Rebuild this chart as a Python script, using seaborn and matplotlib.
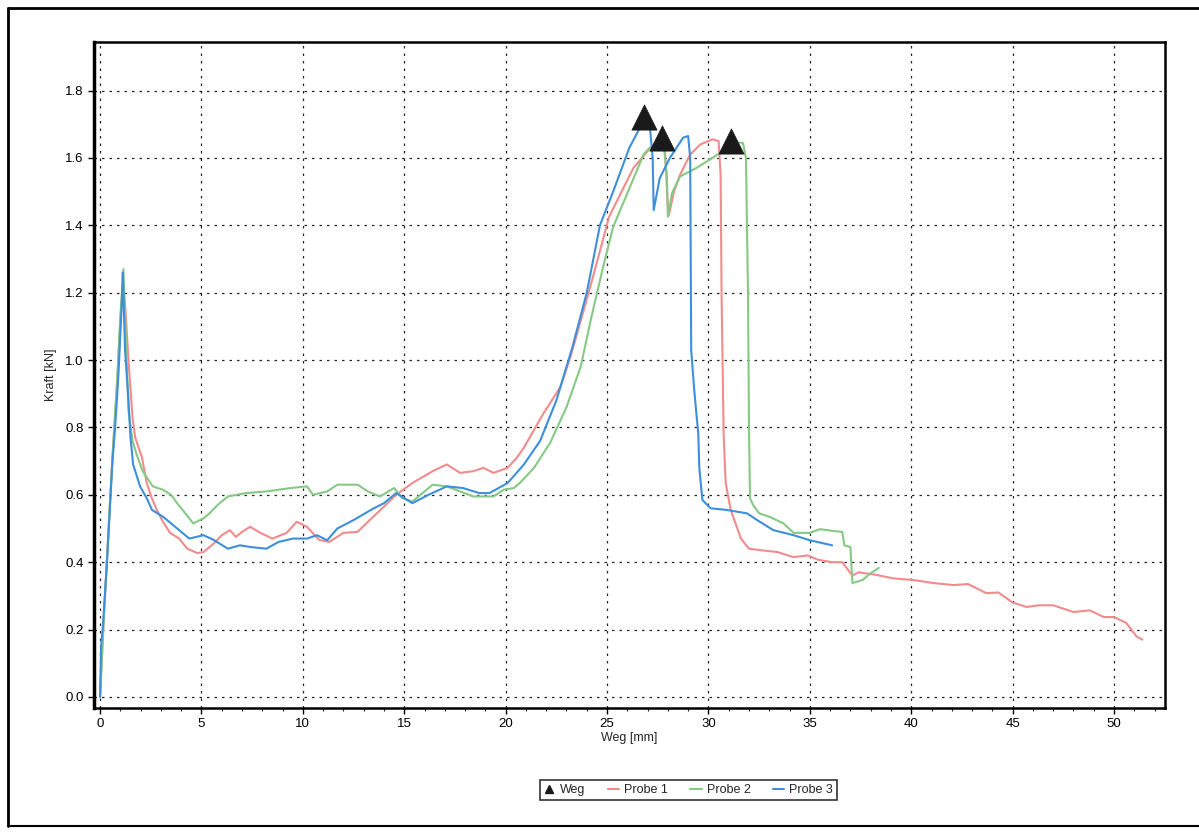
import numpy as np
import pandas as pd
import matplotlib
matplotlib.use("Agg")
import matplotlib.pyplot as plt
from matplotlib.lines import Line2D
from matplotlib.ticker import MultipleLocator
import seaborn as sns

# ---------------- data ----------------
p1_x = [0, 0.15, 0.35, 0.6, 0.84, 1.0, 1.13, 1.25, 1.4, 1.48, 1.6, 1.73, 1.9, 2.07, 2.3, 2.55, 2.8, 3.1,
        3.45, 3.9, 4.3, 4.8, 5.1, 5.6, 6.0, 6.4, 6.7, 7.0, 7.4, 7.9, 8.5, 9.2, 9.7, 10.2, 10.8, 11.3,
        12.0, 12.7, 13.3, 14.0, 14.6, 15.4, 16.4, 17.1, 17.75, 18.4, 18.9, 19.4, 20.1, 20.55, 20.9,
        21.85, 22.7, 23.2, 24.0, 24.5, 25.1, 25.8, 26.3, 27.0, 27.6, 27.85, 28.0, 28.05, 28.3, 28.6,
        29.1, 29.6, 30.2, 30.5, 30.6, 30.65, 30.75, 30.85, 31.1, 31.6, 32.0, 32.5, 33.4, 34.2, 34.9,
        35.4, 36.1, 36.6, 37.1, 37.4, 38.3, 39.1, 40.1, 41.1, 42.1, 42.8, 43.7, 44.3, 45.0, 45.7,
        46.3, 47.0, 48.0, 48.8, 49.5, 50.0, 50.6, 51.1, 51.4]
p1_y = [0, 0.2, 0.42, 0.7, 0.93, 1.12, 1.23, 1.15, 1.0, 0.93, 0.83, 0.77, 0.74, 0.71, 0.635, 0.59, 0.555,
        0.52, 0.487, 0.47, 0.44, 0.427, 0.43, 0.455, 0.48, 0.495, 0.475, 0.49, 0.505, 0.487, 0.47,
        0.487, 0.52, 0.505, 0.466, 0.46, 0.487, 0.49, 0.525, 0.565, 0.60, 0.635, 0.67, 0.69, 0.665,
        0.67, 0.68, 0.665, 0.68, 0.71, 0.74, 0.84, 0.92, 1.01, 1.18, 1.29, 1.425, 1.51, 1.57, 1.62,
        1.66, 1.63, 1.45, 1.43, 1.50, 1.55, 1.61, 1.64, 1.655, 1.65, 1.55, 1.18, 0.78, 0.635, 0.555,
        0.47, 0.44, 0.436, 0.43, 0.415, 0.42, 0.407, 0.40, 0.40, 0.36, 0.37, 0.362, 0.352, 0.347,
        0.338, 0.332, 0.335, 0.308, 0.31, 0.28, 0.267, 0.272, 0.272, 0.252, 0.257, 0.237, 0.237,
        0.22, 0.18, 0.17]

p2_x = [0, 0.2, 0.4, 0.6, 0.85, 1.0, 1.15, 1.25, 1.4, 1.6, 1.8, 2.1, 2.6, 3.1, 3.5, 3.8, 4.2, 4.6, 5.1,
        5.4, 5.8, 6.3, 7.2, 8.2, 9.4, 10.2, 10.5, 11.2, 11.7, 12.7, 13.2, 13.8, 14.5, 14.9, 15.4,
        16.4, 17.1, 17.75, 18.4, 19.4, 19.9, 20.4, 20.7, 21.4, 22.2, 23.0, 23.7, 24.2, 24.8, 25.3,
        26.0, 26.8, 27.1, 27.8, 27.95, 28.0, 28.2, 28.6, 29.4, 30.2, 30.7, 31.4, 31.7, 31.85, 31.95,
        32.0, 32.05, 32.2, 32.5, 33.0, 33.7, 34.2, 35.0, 35.5, 36.1, 36.6, 36.7, 37.0, 37.1, 37.6,
        38.0, 38.4]
p2_y = [0, 0.25, 0.48, 0.7, 0.95, 1.13, 1.27, 1.1, 0.85, 0.76, 0.72, 0.67, 0.625, 0.615, 0.6, 0.575,
        0.545, 0.515, 0.53, 0.545, 0.57, 0.595, 0.605, 0.61, 0.62, 0.625, 0.60, 0.61, 0.63, 0.63,
        0.61, 0.595, 0.62, 0.59, 0.58, 0.63, 0.625, 0.61, 0.595, 0.595, 0.615, 0.62, 0.635, 0.68,
        0.755, 0.86, 0.98, 1.12, 1.275, 1.395, 1.495, 1.61, 1.63, 1.635, 1.55, 1.425, 1.495, 1.545,
        1.57, 1.60, 1.62, 1.645, 1.645, 1.60, 1.20, 0.80, 0.59, 0.57, 0.545, 0.535, 0.515, 0.487,
        0.487, 0.498, 0.493, 0.49, 0.45, 0.445, 0.338, 0.347, 0.367, 0.383]

p3_x = [0, 0.05, 0.15, 0.35, 0.6, 0.74, 0.9, 1.08, 1.12, 1.23, 1.4, 1.5, 1.63, 1.97, 2.3, 2.56, 3.1,
        3.9, 4.4, 5.1, 5.6, 6.3, 6.9, 7.4, 8.2, 8.8, 9.5, 10.2, 10.7, 11.2, 11.7, 12.5, 13.5, 14.0,
        14.6, 15.4, 16.2, 17.1, 17.9, 18.7, 19.2, 20.1, 20.9, 21.7, 22.5, 23.3, 24.0, 24.65, 25.3,
        26.1, 26.8, 27.1, 27.25, 27.3, 27.6, 28.1, 28.75, 29.0, 29.1, 29.15, 29.3, 29.5, 29.55,
        29.7, 30.1, 30.9, 31.9, 32.4, 33.2, 34.2, 35.0, 36.1]
p3_y = [0, 0.15, 0.22, 0.41, 0.69, 0.80, 0.95, 1.18, 1.26, 1.03, 0.88, 0.77, 0.69, 0.625, 0.59, 0.555,
        0.535, 0.495, 0.47, 0.48, 0.466, 0.44, 0.45, 0.445, 0.44, 0.46, 0.47, 0.47, 0.48, 0.465,
        0.50, 0.525, 0.56, 0.575, 0.605, 0.575, 0.60, 0.625, 0.62, 0.605, 0.605, 0.635, 0.69, 0.76,
        0.88, 1.04, 1.20, 1.40, 1.50, 1.63, 1.71, 1.70, 1.60, 1.445, 1.54, 1.60, 1.66, 1.665, 1.60,
        1.03, 0.91, 0.78, 0.68, 0.585, 0.56, 0.555, 0.545, 0.525, 0.495, 0.48, 0.465, 0.45]

weg_x = [26.8, 27.7, 31.1]
weg_y = [1.72, 1.66, 1.65]

series_names = ["Probe 1", "Probe 2", "Probe 3"]
series_colors = ["#f28b8b", "#85c985", "#3d8fdb"]
x_ticks = [0, 5, 10, 15, 20, 25, 30, 35, 40, 45, 50]
y_ticks = [0.0, 0.2, 0.4, 0.6, 0.8, 1.0, 1.2, 1.4, 1.6, 1.8]

# ---------------- build frame ----------------
frames = []
for name, xs, ys in zip(series_names, [p1_x, p2_x, p3_x], [p1_y, p2_y, p3_y]):
    frames.append(pd.DataFrame({"Weg": xs, "Kraft": ys, "Serie": name, "order": range(len(xs))}))
df = pd.concat(frames, ignore_index=True)
df_weg = pd.DataFrame({"Weg": weg_x, "Kraft": weg_y})

sns.set_style("white")
plt.rcParams["font.family"] = ["Liberation Sans", "DejaVu Sans"]

fig = plt.figure(figsize=(11.99, 8.32), dpi=100)
ax = fig.add_axes([0.0784, 0.149, 0.893, 0.8005])

palette = dict(zip(series_names, series_colors))
sns.lineplot(data=df, x="Weg", y="Kraft", hue="Serie", units="Serie", estimator=None,
             sort=False, palette=palette, linewidth=1.5, ax=ax, legend=False)
sns.scatterplot(data=df_weg, x="Weg", y="Kraft", marker="^", s=330, color="#1a1a1a",
                edgecolor="#1a1a1a", linewidth=0.5, ax=ax, zorder=5, legend=False)

ax.set_xlim(-0.3, 52.5)
ax.set_ylim(-0.033, 1.944)
ax.set_xticks(x_ticks)
ax.set_xticklabels([str(t) for t in x_ticks])
ax.set_yticks(y_ticks)
ax.set_yticklabels([f"{t:.1f}" for t in y_ticks])
ax.xaxis.set_minor_locator(MultipleLocator(1))
ax.tick_params(axis="both", which="major", direction="out", length=4, width=1,
               labelsize=9.5, colors="black", bottom=True, left=True)
ax.tick_params(axis="x", which="minor", direction="out", length=2.5, width=0.8, bottom=True)
ax.grid(True, which="major", color="black", linestyle=(0, (2, 4)), linewidth=0.9, alpha=0.85)
for s in ax.spines.values():
    s.set_visible(True)
    s.set_color("black")
    s.set_linewidth(1.8)
ax.spines["left"].set_linewidth(2.5)

ax.set_xlabel("Weg [mm]", fontsize=9, labelpad=1)
ax.set_ylabel("Kraft [kN]", fontsize=9, labelpad=6)

handles = [Line2D([0], [0], marker="^", color="#1a1a1a", linestyle="none", markersize=6)]
handles += [Line2D([0], [0], color=c, lw=1.5) for c in series_colors]
labels = ["Weg"] + series_names
leg = fig.legend(handles, labels, loc="center", bbox_to_anchor=(0.574, 0.0505), ncol=4,
                 fontsize=9, frameon=True, fancybox=False, edgecolor="black",
                 handlelength=0.9, handletextpad=0.4, columnspacing=1.8,
                 borderpad=0.3)
leg.get_frame().set_linewidth(1.2)

# outer frame of the page
fig.add_artist(Line2D([8 / 1199, 1.0], [1 - 8 / 832, 1 - 8 / 832], color="black", lw=2,
                      transform=fig.transFigure))
fig.add_artist(Line2D([8 / 1199, 8 / 1199], [1 - 8 / 832, 1 - 826 / 832], color="black", lw=2,
                      transform=fig.transFigure))
fig.add_artist(Line2D([8 / 1199, 1.0], [1 - 826 / 832, 1 - 826 / 832], color="black", lw=1.5,
                      transform=fig.transFigure))

fig.savefig("out.png", dpi=100)
